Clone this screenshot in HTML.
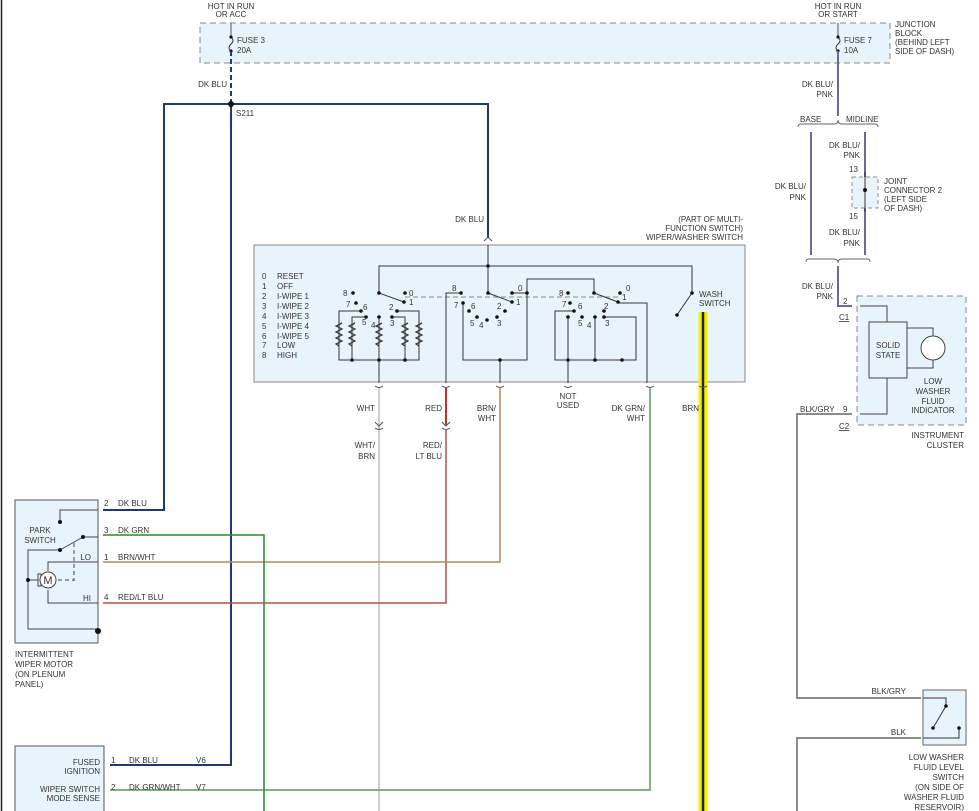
<!DOCTYPE html>
<html><head><meta charset="utf-8"><style>
body{margin:0;background:#fff}
svg{display:block;font-family:"Liberation Sans",sans-serif;font-size:8px;fill:#333}
text{fill:#333}
</style></head><body>
<svg width="979" height="811" viewBox="0 0 979 811" xmlns="http://www.w3.org/2000/svg">
<line x1="1.5" y1="0" x2="1.5" y2="811" stroke="#222" stroke-width="1.5"/>
<!-- junction block -->
<rect x="200" y="23" width="690" height="40" fill="#e8f4fb" stroke="#888" stroke-dasharray="6,4"/>
<text x="231" y="9" text-anchor="middle">HOT IN RUN</text><text x="231" y="17" text-anchor="middle">OR ACC</text>
<text x="838" y="9" text-anchor="middle">HOT IN RUN</text><text x="838" y="17" text-anchor="middle">OR START</text>
<text x="895" y="27">JUNCTION</text><text x="895" y="36">BLOCK</text><text x="895" y="45">(BEHIND LEFT</text><text x="895" y="54">SIDE OF DASH)</text>
<line x1="231" y1="23" x2="231" y2="37" stroke="#555"/>
<path d="M231 37 q4 4 0 7 q-4 4 0 7" fill="none" stroke="#333"/>
<circle cx="231" cy="37" r="1.6" fill="#111"/><circle cx="231" cy="51" r="1.6" fill="#111"/>
<text x="237" y="43">FUSE 3</text><text x="237" y="53">20A</text>
<line x1="838" y1="23" x2="838" y2="37" stroke="#555"/>
<path d="M838 37 q4 4 0 7 q-4 4 0 7" fill="none" stroke="#333"/>
<circle cx="838" cy="37" r="1.6" fill="#111"/><circle cx="838" cy="51" r="1.6" fill="#111"/>
<text x="844" y="43">FUSE 7</text><text x="844" y="53">10A</text>
<!-- DK BLU network -->
<line x1="231" y1="51" x2="231" y2="104" stroke="#1f3a6e" stroke-width="2" stroke-dasharray="5,3"/>
<text x="227" y="87" text-anchor="end">DK BLU</text>
<polyline points="103,510 164,510 164,104 488,104 488,238" fill="none" stroke="#1f3a6e" stroke-width="2"/>
<polyline points="231,104 231,765 110,765" fill="none" stroke="#1f3a6e" stroke-width="2"/>
<circle cx="231" cy="104" r="3" fill="#111"/>
<text x="236" y="116">S211</text>
<text x="484" y="222" text-anchor="end">DK BLU</text>
<!-- right side -->
<line x1="838" y1="51" x2="838" y2="116" stroke="#6a6a9a" stroke-width="2"/>
<text x="833" y="87" text-anchor="end">DK BLU/</text><text x="833" y="97" text-anchor="end">PNK</text>
<path d="M798 127 q0 -3 3 -3 h33 q4 0 4 -4 q0 4 4 4 h33 q3 0 3 3" fill="none" stroke="#666"/>
<text x="800" y="122">BASE</text><text x="846" y="122">MIDLINE</text>
<line x1="811" y1="132" x2="811" y2="255" stroke="#6a6a9a" stroke-width="2"/>
<line x1="865" y1="132" x2="865" y2="255" stroke="#6a6a9a" stroke-width="2"/>
<text x="806" y="189" text-anchor="end">DK BLU/</text><text x="806" y="200" text-anchor="end">PNK</text>
<text x="860" y="148" text-anchor="end">DK BLU/</text><text x="860" y="158" text-anchor="end">PNK</text>
<text x="860" y="235" text-anchor="end">DK BLU/</text><text x="860" y="246" text-anchor="end">PNK</text>
<rect x="852" y="177" width="26" height="31" fill="#e8f4fb" stroke="#888" stroke-dasharray="4,3"/>
<line x1="865" y1="172" x2="865" y2="212" stroke="#333"/>
<circle cx="865" cy="190" r="2" fill="#111"/>
<text x="858" y="172" text-anchor="end">13</text><text x="858" y="219" text-anchor="end">15</text>
<text x="884" y="184">JOINT</text><text x="884" y="193">CONNECTOR 2</text><text x="884" y="202">(LEFT SIDE</text><text x="884" y="211">OF DASH)</text>
<path d="M806 262 q0 -3 3 -3 h25 q4 0 4 4 q0 -4 4 -4 h25 q3 0 3 3" fill="none" stroke="#666"/>
<polyline points="838,266 838,306 852,306" fill="none" stroke="#6a6a9a" stroke-width="2"/>
<text x="833" y="289" text-anchor="end">DK BLU/</text><text x="833" y="299" text-anchor="end">PNK</text>
<text x="843" y="304">2</text><text x="839" y="320" text-decoration="underline">C1</text>
<!-- instrument cluster -->
<rect x="857" y="296" width="109" height="129" fill="#e8f4fb" stroke="#888" stroke-dasharray="6,4"/>
<polyline points="860,306 887,306 887,322" fill="none" stroke="#444"/>
<rect x="869" y="322" width="38" height="56" fill="#e8f4fb" stroke="#444"/>
<text x="888" y="348" text-anchor="middle">SOLID</text><text x="888" y="358" text-anchor="middle">STATE</text>
<polyline points="907,328 933,328 933,368 907,368" fill="none" stroke="#444"/>
<circle cx="933" cy="348" r="12" fill="#fff" stroke="#444"/>
<text x="933" y="384" text-anchor="middle">LOW</text><text x="933" y="394" text-anchor="middle">WASHER</text><text x="933" y="404" text-anchor="middle">FLUID</text><text x="933" y="413" text-anchor="middle">INDICATOR</text>
<polyline points="887,378 887,414 860,414" fill="none" stroke="#444"/>
<text x="964" y="438" text-anchor="end">INSTRUMENT</text><text x="964" y="448" text-anchor="end">CLUSTER</text>
<polyline points="852,414 797,414 797,698 921,698" fill="none" stroke="#666" stroke-width="1.5"/>
<text x="800" y="412">BLK/GRY</text><text x="843" y="412">9</text><text x="839" y="429" text-decoration="underline">C2</text>
<text x="906" y="694" text-anchor="end">BLK/GRY</text>
<polyline points="921,738 797,738 797,811" fill="none" stroke="#666" stroke-width="1.5"/>
<text x="906" y="735" text-anchor="end">BLK</text>
<rect x="923" y="690" width="43" height="55" fill="#e8f4fb" stroke="#666"/>
<polyline points="923,698 946,698 946,706" fill="none" stroke="#333"/>
<line x1="946" y1="706" x2="933" y2="728" stroke="#333"/>
<circle cx="946" cy="706" r="1.8" fill="#111"/><circle cx="933" cy="728" r="1.8" fill="#111"/>
<polyline points="923,738 959,738 959,728" fill="none" stroke="#333"/>
<circle cx="959" cy="728" r="1.8" fill="#111"/>
<text x="964" y="760" text-anchor="end">LOW WASHER</text><text x="964" y="770" text-anchor="end">FLUID LEVEL</text><text x="964" y="780" text-anchor="end">SWITCH</text><text x="964" y="790" text-anchor="end">(ON SIDE OF</text><text x="964" y="800" text-anchor="end">WASHER FLUID</text><text x="964" y="810" text-anchor="end">RESERVOIR)</text>
<!-- wiper switch -->
<text x="743" y="222" text-anchor="end">(PART OF MULTI-</text><text x="743" y="231" text-anchor="end">FUNCTION SWITCH)</text><text x="743" y="240" text-anchor="end">WIPER/WASHER SWITCH</text>
<rect x="254" y="245" width="491" height="137" fill="#e8f4fb" stroke="#888"/>
<g>
<text x="262" y="279">0</text><text x="277" y="279">RESET</text>
<text x="262" y="289">1</text><text x="277" y="289">OFF</text>
<text x="262" y="299">2</text><text x="277" y="299">I-WIPE 1</text>
<text x="262" y="309">3</text><text x="277" y="309">I-WIPE 2</text>
<text x="262" y="319">4</text><text x="277" y="319">I-WIPE 3</text>
<text x="262" y="329">5</text><text x="277" y="329">I-WIPE 4</text>
<text x="262" y="339">6</text><text x="277" y="339">I-WIPE 5</text>
<text x="262" y="348">7</text><text x="277" y="348">LOW</text>
<text x="262" y="358">8</text><text x="277" y="358">HIGH</text>
</g>
<g fill="none" stroke="#333">
<polyline points="488,245 488,293"/>
<polyline points="379,293 379,266 692,266 692,293"/>
<line x1="405" y1="297" x2="620" y2="297" stroke="#888" stroke-dasharray="5,3"/>
<line x1="379" y1="293" x2="404" y2="302"/>
<line x1="488" y1="293" x2="512" y2="302"/>
<line x1="594" y1="293" x2="618" y2="302"/>
<line x1="692" y1="293" x2="677" y2="315"/>
<!-- left resistor group -->
<polyline points="361,311 339,311 339,360 419,360 419,311 397,311"/>
<polyline points="366,317 352,317 352,360"/>
<polyline points="392,317 405,317 405,360"/>
<line x1="379" y1="317" x2="379" y2="383"/>
<!-- middle -->
<polyline points="461,293 446,293 446,383"/>
<polyline points="463,303 463,360 527,360 527,279 594,279 594,293"/>
<line x1="500" y1="360" x2="500" y2="383"/>
<polyline points="512,293 527,293"/>
<!-- right -->
<polyline points="618,303 647,303 647,383"/>
<polyline points="574,311 555,311 555,360 636,360 636,317 604,317"/>
<polyline points="568,317 568,383"/>
<polyline points="595,317 595,360"/>
</g>
<g fill="none" stroke="#333" stroke-width="1.2">
<path d="M336 325 l3 -2 l-6 3 l6 3 l-6 3 l6 3 l-6 3 l6 3 l-6 3 l3 2" transform="translate(3,0)"/>
<path d="M349 325 l3 -2 l-6 3 l6 3 l-6 3 l6 3 l-6 3 l6 3 l-6 3 l3 2" transform="translate(3,0)"/>
<path d="M376 325 l3 -2 l-6 3 l6 3 l-6 3 l6 3 l-6 3 l6 3 l-6 3 l3 2" transform="translate(3,0)"/>
<path d="M402 325 l3 -2 l-6 3 l6 3 l-6 3 l6 3 l-6 3 l6 3 l-6 3 l3 2" transform="translate(3,0)"/>
<path d="M416 325 l3 -2 l-6 3 l6 3 l-6 3 l6 3 l-6 3 l6 3 l-6 3 l3 2" transform="translate(3,0)"/>
</g>
<g fill="#111">
<circle cx="488" cy="266" r="1.8"/><circle cx="379" cy="293" r="1.8"/><circle cx="488" cy="293" r="1.8"/><circle cx="594" cy="293" r="1.8"/><circle cx="692" cy="293" r="1.8"/><circle cx="677" cy="315" r="1.8"/>
<circle cx="353" cy="293" r="1.8"/><circle cx="405" cy="293" r="1.8"/><circle cx="356" cy="303" r="1.8"/><circle cx="404" cy="302" r="1.8"/><circle cx="361" cy="311" r="1.8"/><circle cx="397" cy="311" r="1.8"/><circle cx="366" cy="317" r="1.8"/><circle cx="379" cy="317" r="1.8"/><circle cx="392" cy="317" r="1.8"/>
<circle cx="352" cy="360" r="1.8"/><circle cx="379" cy="360" r="1.8"/><circle cx="405" cy="360" r="1.8"/>
<circle cx="461" cy="293" r="1.8"/><circle cx="463" cy="303" r="1.8"/><circle cx="512" cy="302" r="1.8"/><circle cx="512" cy="293" r="1.8"/><circle cx="527" cy="293" r="1.8"/><circle cx="469" cy="311" r="1.8"/><circle cx="477" cy="317" r="1.8"/><circle cx="487" cy="320" r="1.8"/><circle cx="497" cy="317" r="1.8"/><circle cx="505" cy="311" r="1.8"/><circle cx="500" cy="360" r="1.8"/>
<circle cx="568" cy="293" r="1.8"/><circle cx="570" cy="303" r="1.8"/><circle cx="618" cy="302" r="1.8"/><circle cx="620" cy="293" r="1.8"/><circle cx="574" cy="311" r="1.8"/><circle cx="604" cy="311" r="1.8"/><circle cx="568" cy="317" r="1.8"/><circle cx="582" cy="317" r="1.8"/><circle cx="595" cy="317" r="1.8"/><circle cx="604" cy="317" r="1.8"/><circle cx="568" cy="360" r="1.8"/><circle cx="595" cy="360" r="1.8"/><circle cx="622" cy="360" r="1.8"/>
</g>
<g font-size="8">
<text x="343" y="296">8</text><text x="409" y="296">0</text><text x="346" y="307">7</text><text x="409" y="305">1</text><text x="363" y="310">6</text><text x="389" y="310">2</text><text x="362" y="325">5</text><text x="371" y="328">4</text><text x="390" y="326">3</text>
<text x="452" y="291">8</text><text x="518" y="291">0</text><text x="454" y="308">7</text><text x="516" y="305">1</text><text x="471" y="309">6</text><text x="497" y="309">2</text><text x="470" y="326">5</text><text x="479" y="328">4</text><text x="497" y="326">3</text>
<text x="559" y="296">8</text><text x="626" y="291">0</text><text x="562" y="307">7</text><text x="622" y="300">1</text><text x="578" y="309">6</text><text x="604" y="309">2</text><text x="578" y="326">5</text><text x="587" y="328">4</text><text x="605" y="326">3</text>
<text x="699" y="297">WASH</text><text x="699" y="306">SWITCH</text>
</g>
<!-- output wires -->
<line x1="703" y1="312" x2="703" y2="811" stroke="#f4f000" stroke-width="9"/>
<line x1="703" y1="312" x2="703" y2="811" stroke="#222" stroke-width="2.5"/>
<line x1="379" y1="388" x2="379" y2="811" stroke="#d0d0c8" stroke-width="2"/>
<line x1="446" y1="388" x2="446" y2="425" stroke="#c03030" stroke-width="2"/>
<polyline points="446,430 446,603 103,603" fill="none" stroke="#b05050" stroke-width="1.5"/>
<polyline points="500,388 500,562 103,562" fill="none" stroke="#a89060" stroke-width="1.5"/>
<polyline points="650,388 650,790 110,790" fill="none" stroke="#5a9a5a" stroke-width="1.5"/>
<polyline points="103,535 264,535 264,811" fill="none" stroke="#2a8a2a" stroke-width="1.5"/>
<text x="375" y="411" text-anchor="end">WHT</text><text x="442" y="411" text-anchor="end">RED</text>
<text x="496" y="411" text-anchor="end">BRN/</text><text x="496" y="421" text-anchor="end">WHT</text>
<text x="568" y="399" text-anchor="middle">NOT</text><text x="568" y="408" text-anchor="middle">USED</text>
<text x="645" y="411" text-anchor="end">DK GRN/</text><text x="645" y="421" text-anchor="end">WHT</text>
<text x="699" y="411" text-anchor="end">BRN</text>
<text x="375" y="448" text-anchor="end">WHT/</text><text x="375" y="459" text-anchor="end">BRN</text>
<text x="442" y="448" text-anchor="end">RED/</text><text x="442" y="459" text-anchor="end">LT BLU</text>
<g fill="none" stroke="#555">
<path d="M375 386 q4 3 8 0"/><path d="M442 386 q4 3 8 0"/><path d="M496 386 q4 3 8 0"/><path d="M564 386 q4 3 8 0"/><path d="M646 386 q4 3 8 0"/><path d="M699 386 q4 3 8 0"/>
<path d="M375 422 l4 4 l4 -4"/><path d="M375 428 q4 3 8 0"/><path d="M442 422 l4 4 l4 -4"/><path d="M442 428 q4 3 8 0"/>
<path d="M484 241 l4 -4 l4 4"/>
</g>
<!-- motor -->
<rect x="15" y="500" width="83" height="143" fill="#e8f4fb" stroke="#555"/>
<g fill="none" stroke="#444">
<polyline points="98,510 60,510 60,522"/>
<line x1="60" y1="550" x2="83" y2="537"/><polyline points="83,537 98,537"/>
<polyline points="60,550 28,550 28,629 98,629"/>
<line x1="74" y1="543" x2="74" y2="581" stroke-dasharray="4,3"/><line x1="58" y1="580" x2="74" y2="580" stroke-dasharray="4,3"/>
<polyline points="48,571 48,562 98,562"/><polyline points="48,590 48,603 98,603"/>
<line x1="28" y1="580" x2="38" y2="580"/>
<rect x="38" y="574" width="3" height="12"/>
<circle cx="48" cy="580" r="8" fill="#fff"/>
</g>
<text x="48" y="584" text-anchor="middle" font-size="11">M</text>
<g fill="#111"><circle cx="60" cy="522" r="2"/><circle cx="60" cy="550" r="2"/><circle cx="83" cy="537" r="2"/><circle cx="28" cy="580" r="2"/><circle cx="98" cy="631" r="3"/></g>
<text x="40" y="533" text-anchor="middle">PARK</text><text x="40" y="543" text-anchor="middle">SWITCH</text>
<text x="91" y="560" text-anchor="end">LO</text><text x="91" y="601" text-anchor="end">HI</text>
<text x="104" y="506">2</text><text x="118" y="506">DK BLU</text>
<text x="104" y="533">3</text><text x="118" y="533">DK GRN</text>
<text x="104" y="560">1</text><text x="118" y="560">BRN/WHT</text>
<text x="104" y="600">4</text><text x="118" y="600">RED/LT BLU</text>
<text x="15" y="657">INTERMITTENT</text><text x="15" y="667">WIPER MOTOR</text><text x="15" y="677">(ON PLENUM</text><text x="15" y="687">PANEL)</text>
<!-- bottom module -->
<rect x="15" y="746" width="89" height="70" fill="#e8f4fb" stroke="#555"/>
<text x="100" y="765" text-anchor="end">FUSED</text><text x="100" y="774" text-anchor="end">IGNITION</text>
<text x="100" y="792" text-anchor="end">WIPER SWITCH</text><text x="100" y="801" text-anchor="end">MODE SENSE</text>
<text x="111" y="763">1</text><text x="129" y="763">DK BLU</text><text x="196" y="763">V6</text>
<text x="111" y="790">2</text><text x="129" y="790">DK GRN/WHT</text><text x="196" y="790">V7</text>
</svg>
</body></html>
